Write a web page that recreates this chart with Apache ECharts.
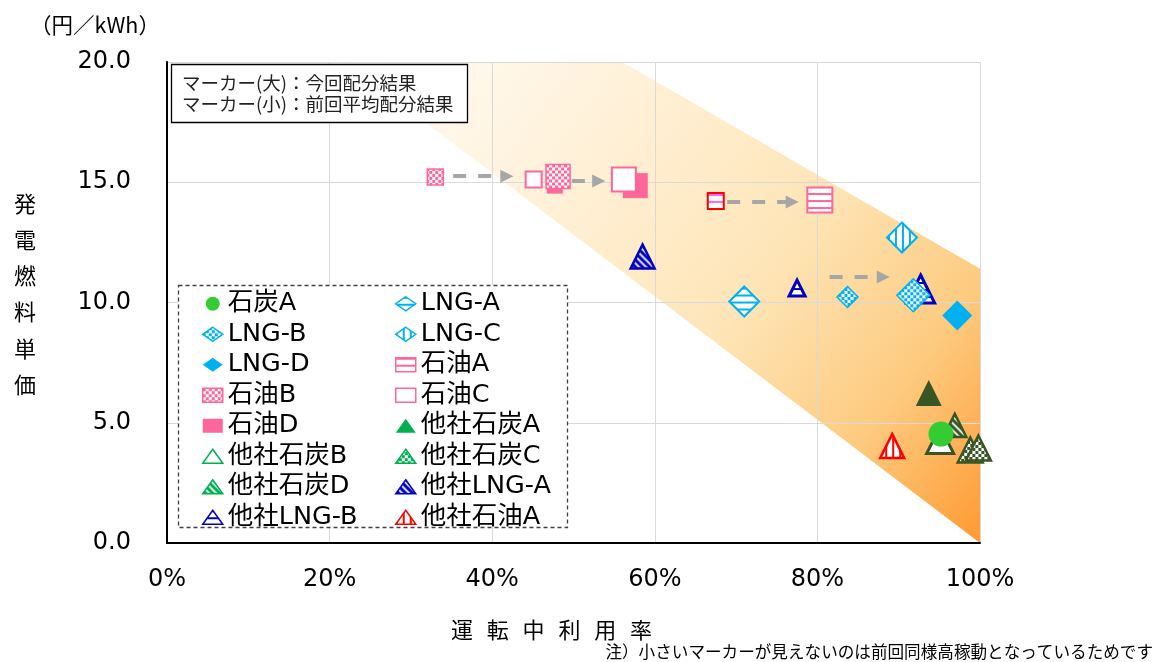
<!DOCTYPE html>
<html>
<head>
<meta charset="utf-8">
<script src="https://cdn.jsdelivr.net/npm/echarts@6/dist/echarts.min.js"></script>
<style>
html,body{margin:0;padding:0;background:#fff}
#chart{width:1158px;height:662px}
</style>
</head>
<body>
<div id="chart"></div>
<script>
// 系列（凡例の並び順）
const seriesNames = ['石炭A','LNG-A','LNG-B','LNG-C','LNG-D','石油A','石油B','石油C','石油D',
  '他社石炭A','他社石炭B','他社石炭C','他社石炭D','他社LNG-A','他社LNG-B','他社石油A'];

// マーカー：系列名 / 運転中利用率(%) / 発電燃料単価(円/kWh) / 前回(小マーカー)か
const pointName = ['石炭A','LNG-A','LNG-B','LNG-B','LNG-C','LNG-D','石油A','石油A','石油B','石油B',
  '石油C','石油C','石油D','石油D','他社石炭A','他社石炭B','他社石炭C','他社石炭C','他社石炭D',
  '他社LNG-A','他社LNG-B','他社LNG-B','他社石油A'];
const pointRate = [95.2, 71.0, 83.7, 91.8, 90.4, 97.2, 67.5, 80.3, 33.0, 48.1,
  45.1, 56.2, 47.7, 57.6, 93.7, 95.1, 98.8, 99.8, 96.9,
  58.5, 77.5, 92.7, 89.2];
const pointCost = [4.53, 10.04, 10.23, 10.3, 12.70, 9.46, 14.22, 14.26, 15.22, 15.24,
  15.11, 15.11, 14.86, 14.86, 6.24, 4.28, 3.87, 3.95, 4.89,
  11.91, 10.6, 10.56, 4.03];
const pointPrev = [false, false, true, false, false, false, true, false, true, false,
  true, false, true, false, false, false, false, false, false,
  false, true, false, false];

// 矢印（前回→今回）
const arrowFromRate = [35.2, 49.8, 68.9, 81.5];
const arrowToRate = [41.8, 53.1, 76.9, 88.1];
const arrowCost = [15.25, 15.05, 14.18, 11.06];

// 背景の帯
const bandRate = [22, 56, 100, 100];
const bandCost = [20, 20, 11.4, 0];

const NUM_FONT = "'DejaVu Sans', 'Noto Sans CJK JP'";
const JP_FONT = "'Noto Sans CJK JP'";

// 塗りパターン（シンボルは拡大描画されるので scale で打ち消す）
function pat(kind, fg, scale) {
  const c = document.createElement('canvas');
  const n = kind === 'c' ? 6 : 7;
  c.width = c.height = n;
  const g = c.getContext('2d');
  g.fillStyle = '#fff';
  g.fillRect(0, 0, n, n);
  g.fillStyle = fg;
  if (kind === 'h') g.fillRect(0, 0, n, 2);
  else if (kind === 'v') g.fillRect(0, 0, 2, n);
  else if (kind === 'c') { g.fillRect(0, 0, 3, 3); g.fillRect(3, 3, 3, 3); }
  else if (kind === 'd') {
    g.fillRect(0, 0, n, n);
    g.strokeStyle = '#fff'; g.lineWidth = 1.8;
    g.beginPath();
    g.moveTo(-1, -1); g.lineTo(n + 1, n + 1);
    g.moveTo(-1, n - 1); g.lineTo(1, n + 1);
    g.moveTo(n - 1, -1); g.lineTo(n + 1, 1);
    g.stroke();
  }
  return { image: c, repeat: 'repeat', scaleX: scale, scaleY: scale };
}
function fill(f, size) { return f[0] === 'solid' ? f[1] : pat(f[0], f[1], size ? 2 / size : 1); }

const DG = '#375623', LG = '#00B050', CY = '#00B0F0', PK = '#FF6699', NV = '#0000BF';
const markStyle = {
  '石炭A':    {symbol:'circle',   big:25, small:15, fill:['solid','#33CC33'], border:'#33CC33', bw:0},
  'LNG-A':    {symbol:'diamond',  big:30, small:20, fill:['h',CY], border:CY, bw:2},
  'LNG-B':    {symbol:'diamond',  big:33, small:21, fill:['c',CY], border:CY, bw:1.5},
  'LNG-C':    {symbol:'diamond',  big:30, small:20, fill:['v',CY], border:CY, bw:2},
  'LNG-D':    {symbol:'diamond',  big:30, small:20, fill:['solid',CY], border:CY, bw:0},
  '石油A':    {symbol:'rect', big:25, small:16, fill:['h',PK], border:PK, bw:2, prevFill:['h','#FF66FF'], prevBorder:'#FF0000'},
  '石油B':    {symbol:'rect', big:24, small:16, fill:['c',PK], border:PK, bw:1.5},
  '石油C':    {symbol:'rect', big:24, small:16, fill:['solid','#ffffff'], border:PK, bw:2},
  '石油D':    {symbol:'rect', big:25, small:16, fill:['solid',PK], border:PK, bw:0},
  '他社石炭A': {symbol:'triangle', big:26, small:17, fill:['solid',DG], border:DG, bw:0, legend:LG},
  '他社石炭B': {symbol:'triangle', big:27, small:17, fill:['solid','#ffffff'], border:DG, bw:3, legend:LG},
  '他社石炭C': {symbol:'triangle', big:25, small:17, fill:['c',DG], border:DG, bw:2.5, legend:LG},
  '他社石炭D': {symbol:'triangle', big:23, small:17, fill:['d',DG], border:DG, bw:2.5, legend:LG},
  '他社LNG-A': {symbol:'triangle', big:24, small:16, fill:['d',NV], border:NV, bw:2.5},
  '他社LNG-B': {symbol:'triangle', big:28, small:16, fill:['h',NV], border:NV, bw:3},
  '他社石油A': {symbol:'triangle', big:24, small:16, fill:['v','#FF0000'], border:'#FF0000', bw:2.5}
};

const scatterSeries = seriesNames.map(function (name) {
  const st = markStyle[name];
  const data = [];
  pointName.forEach(function (p, i) {
    if (p !== name) return;
    const size = pointPrev[i] ? st.small : st.big;
    const usePrev = pointPrev[i] && st.prevBorder;
    data.push({
      value: [pointRate[i], pointCost[i]],
      symbolSize: size,
      itemStyle: {
        color: fill(usePrev ? st.prevFill : st.fill, size),
        borderColor: usePrev ? st.prevBorder : st.border
      }
    });
  });
  return {
    type: 'scatter', name: name, symbol: st.symbol, z: 3,
    itemStyle: { color: fill(st.fill), borderColor: st.border, borderWidth: st.bw, opacity: 1 },
    data: data
  };
}).reverse(); // 先の系列を上に描く

function legendData(names) {
  return names.map(function (n) {
    const st = markStyle[n];
    let f = st.fill, b = st.border;
    if (st.legend) {
      b = st.legend;
      f = f[0] !== 'solid' ? [f[0], st.legend] : (f[1] === '#ffffff' ? f : ['solid', st.legend]);
    }
    return { name: n, itemStyle: { color: fill(f), borderColor: b, borderWidth: st.bw ? 1.5 : 0 } };
  });
}
const legendCol1 = seriesNames.filter(function (n, i) { return i % 2 === 0; });
const legendCol2 = seriesNames.filter(function (n, i) { return i % 2 === 1; });
const legendBase = {
  orient: 'vertical', top: 286, itemWidth: 20, itemHeight: 14, itemGap: 5,
  selectedMode: false, z: 6,
  textStyle: { fontSize: 25.5, lineHeight: 25, color: '#000', fontFamily: NUM_FONT }
};

const chart = echarts.init(document.getElementById('chart'));
chart.setOption({
  animation: false,
  backgroundColor: '#fff',
  title: {
    text: 'マーカー(大)：今回配分結果\nマーカー(小)：前回平均配分結果',
    left: 171, top: 64, padding: [9, 14, 9, 11],
    backgroundColor: '#fff', borderColor: '#000', borderWidth: 1.3, z: 7,
    textStyle: { fontSize: 18.5, lineHeight: 20.5, fontWeight: 'normal', color: '#222', fontFamily: JP_FONT }
  },
  legend: [
    Object.assign({}, legendBase, { left: 197, data: legendData(legendCol1) }),
    Object.assign({}, legendBase, { left: 390, data: legendData(legendCol2) })
  ],
  grid: { left: 167, right: 178, top: 62, bottom: 119 },
  xAxis: {
    type: 'value', min: 0, max: 100, interval: 20, z: 1,
    axisLine: { show: true, onZero: false, lineStyle: { color: '#000', width: 2 } },
    axisTick: { show: false },
    splitLine: { show: true, lineStyle: { color: '#D9D9D9', width: 1 } },
    axisLabel: { margin: 25, fontSize: 24, color: '#000', fontFamily: NUM_FONT, formatter: function (v) { return v + '%'; } }
  },
  yAxis: {
    type: 'value', min: 0, max: 20, interval: 5, z: 1,
    axisLine: { show: true, onZero: false, lineStyle: { color: '#000', width: 2 } },
    axisTick: { show: false },
    splitLine: { show: true, lineStyle: { color: '#D9D9D9', width: 1 } },
    axisLabel: { margin: 36, fontSize: 24, color: '#000', fontFamily: NUM_FONT, formatter: function (v) { return v.toFixed(1); } }
  },
  graphic: [
    { type: 'rect', z: 5, silent: true,
      shape: { x: 178.5, y: 285.5, width: 389, height: 242 },
      style: { fill: '#fff', stroke: '#404040', lineWidth: 1.3, lineDash: [4, 3] } },
    { type: 'text', x: 95, y: 25, silent: true,
      style: { text: '（円／kWh）', font: '21.5px ' + JP_FONT, fill: '#000', textAlign: 'center', textVerticalAlign: 'middle' } },
    { type: 'text', x: 25, y: 294, silent: true,
      style: { text: '発\n電\n燃\n料\n単\n価', font: '22px ' + JP_FONT, lineHeight: 36.2, fill: '#000', textAlign: 'center', textVerticalAlign: 'middle' } },
    { type: 'group', silent: true, children: '運転中利用率'.split('').map(function (ch, i) {
      return { type: 'text', x: 462 + 35.8 * i, y: 630,
        style: { text: ch, font: '22px ' + JP_FONT, fill: '#000', textAlign: 'center', textVerticalAlign: 'middle' } };
    }) },
    { type: 'text', x: 1153, y: 652, silent: true,
      style: { text: '注）小さいマーカーが見えないのは前回同様高稼動となっているためです', font: '16.6px ' + JP_FONT, fill: '#000', textAlign: 'right', textVerticalAlign: 'middle' } }
  ],
  series: [
    {
      type: 'custom', z: 0, silent: true, data: [[0, 0]],
      renderItem: function (params, api) {
        const pts = bandRate.map(function (r, i) { return api.coord([r, bandCost[i]]); });
        return {
          type: 'polygon', shape: { points: pts },
          style: { fill: new echarts.graphic.LinearGradient(0, 0, 1, 1, [
            { offset: 0, color: '#FFFDF8' },
            { offset: 0.3, color: '#FFF1D9' },
            { offset: 0.58, color: '#FEE5B7' },
            { offset: 0.8, color: '#FDCB80' },
            { offset: 1, color: '#FF9A33' }
          ]) }
        };
      }
    },
    {
      type: 'lines', coordinateSystem: 'cartesian2d', z: 2, silent: true,
      symbol: ['none', 'triangle'], symbolSize: 13,
      lineStyle: { color: '#A6A6A6', width: 4, type: [13, 12], opacity: 1 },
      data: arrowFromRate.map(function (x, i) {
        return { coords: [[x, arrowCost[i]], [arrowToRate[i], arrowCost[i]]] };
      })
    }
  ].concat(scatterSeries)
});
</script>
</body>
</html>
